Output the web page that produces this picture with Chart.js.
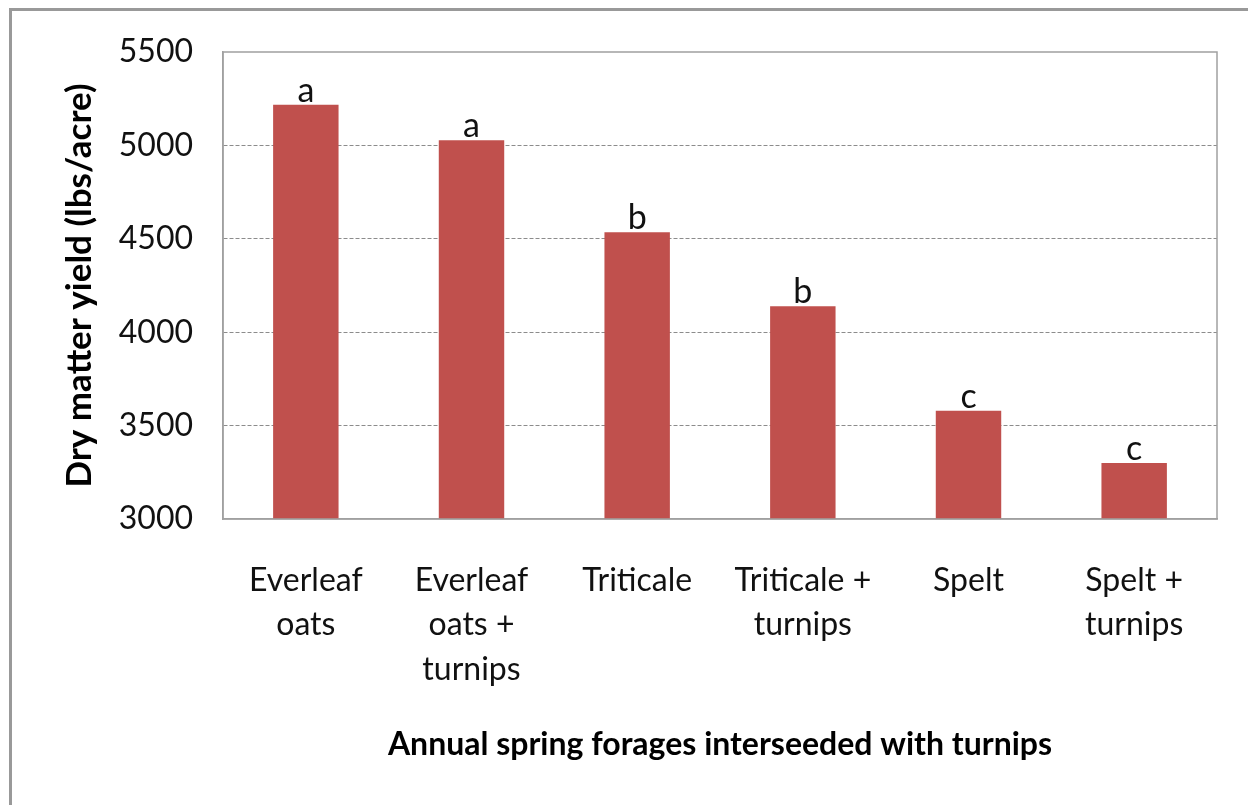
<!DOCTYPE html>
<html>
<head>
<meta charset="utf-8">
<script src="https://cdn.jsdelivr.net/npm/chart.js@4.4.1/dist/chart.umd.min.js"></script>
<style>
  html, body { margin: 0; padding: 0; background: #fff; }
  #wrap { position: relative; width: 1248px; height: 805px; overflow: hidden; }
  #frame { position: absolute; left: 9px; top: 8px; right: -10px; bottom: -10px;
           border-left: 3px solid #999; border-top: 3px solid #999; }
  canvas { position: absolute; left: 0; top: 0; }
</style>
</head>
<body>
<div id="wrap">
  <div id="frame"></div>
  <canvas id="yieldChart" width="1248" height="805"></canvas>
</div>
<script>
// ===== DATA =====
const categories = [
  ["Everleaf", "oats"],
  ["Everleaf", "oats +", "turnips"],
  ["Triticale"],
  ["Triticale +", "turnips"],
  ["Spelt"],
  ["Spelt +", "turnips"]
];
const yieldValues = [5218, 5027, 4535, 4139, 3580, 3300];
const groupLetters = ["a", "a", "b", "b", "c", "c"];
const yTicks = [3000, 3500, 4000, 4500, 5000, 5500];

const FONT = "Lato, 'Open Sans', sans-serif";

document.addEventListener("DOMContentLoaded", () => {
  // plot frame + letters over the bars
  const extras = {
    id: "extras",
    afterDatasetsDraw(chart) {
      const { ctx, chartArea: a } = chart;
      ctx.save();
      ctx.strokeStyle = "#a0a0a0";
      ctx.lineWidth = 1.5;
      ctx.strokeRect(a.left, a.top, a.right - a.left, a.bottom - a.top);

      ctx.fillStyle = "#111";
      ctx.font = "34px " + FONT;
      ctx.textAlign = "center";
      ctx.textBaseline = "alphabetic";
      chart.getDatasetMeta(0).data.forEach((bar, i) => {
        ctx.fillText(groupLetters[i], bar.x, bar.y - 3);
      });
      ctx.restore();
    }
  };

  new Chart(document.getElementById("yieldChart"), {
    type: "bar",
    data: {
      labels: categories,
      datasets: [{
        data: yieldValues,
        backgroundColor: "#C0504D",
        barPercentage: 0.395,
        categoryPercentage: 1
      }]
    },
    options: {
      responsive: false,
      animation: false,
      layout: { padding: { left: 0, top: 52, right: 31, bottom: 0 } },
      plugins: { legend: { display: false }, tooltip: { enabled: false } },
      scales: {
        x: {
          grid: { display: false },
          border: { color: "#a0a0a0", width: 1.5 },
          ticks: {
            color: "#111",
            padding: 31,
            maxRotation: 0,
            autoSkip: false,
            font: { family: FONT, size: 32, lineHeight: 1.39 }
          },
          title: {
            display: true,
            text: "Annual spring forages interseeded with turnips",
            color: "#000",
            font: { family: FONT, size: 32, weight: "bold" },
            padding: { top: 0, bottom: 41 }
          },
          afterFit: (s) => { s.height = 805 - 519; }
        },
        y: {
          min: 3000,
          max: 5500,
          afterBuildTicks: (s) => { s.ticks = yTicks.map(v => ({ value: v })); },
          grid: {
            drawTicks: false,
            color: (c) => (c.tick && (c.tick.value === 3000 || c.tick.value === 5500)) ? "rgba(0,0,0,0)" : "#8c8c8c",
            lineWidth: 1
          },
          border: { color: "#a0a0a0", width: 1.5, dash: [4, 2] },
          ticks: {
            color: "#111",
            padding: 30,
            font: { family: FONT, size: 32 },
            callback: (v) => String(v)
          },
          title: {
            display: true,
            text: "Dry matter yield (lbs/acre)",
            color: "#000",
            font: { family: FONT, size: 35, weight: "bold" },
            padding: { top: 59, bottom: 0 }
          },
          afterFit: (s) => { s.width = 223; }
        }
      }
    },
    plugins: [extras]
  });
});
</script>
</body>
</html>
